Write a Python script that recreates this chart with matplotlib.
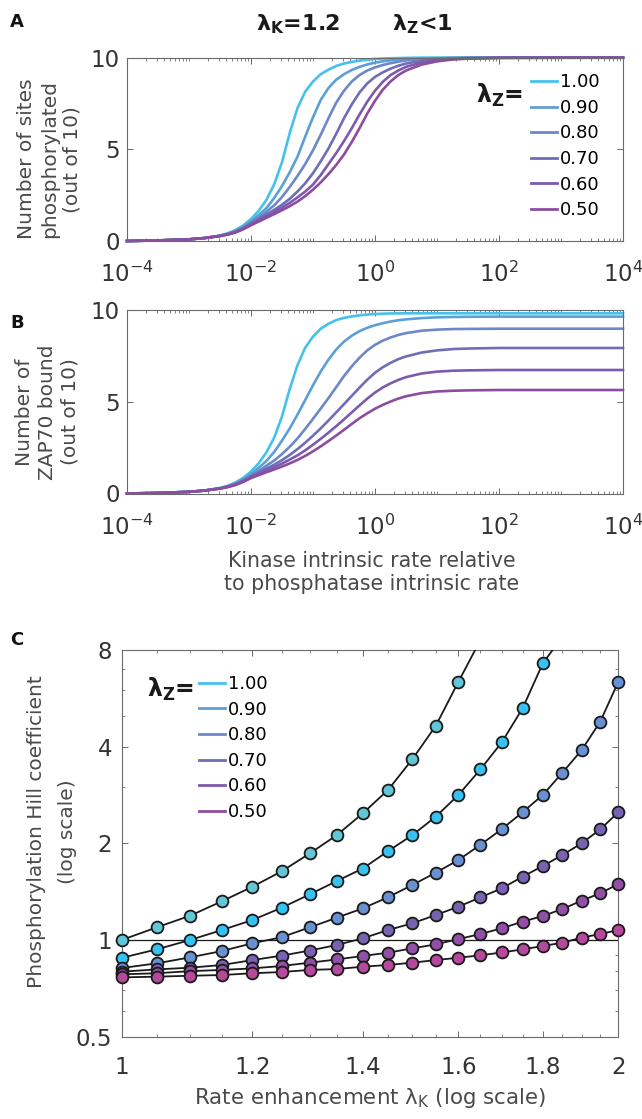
import numpy as np
import matplotlib.pyplot as plt
from matplotlib.ticker import FixedLocator, LogLocator, NullFormatter
from matplotlib.lines import Line2D

# -----------------------------
# Data
# -----------------------------
lam_z = ["1.00", "0.90", "0.80", "0.70", "0.60", "0.50"]

# kinase / phosphatase intrinsic rate, as powers of ten
rate_exp = [-4, -3.5, -3, -2.75,
            -2.5, -2.375, -2.25, -2.125, -2, -1.875, -1.75, -1.625,
            -1.5, -1.375, -1.25, -1.125, -1, -0.875, -0.75, -0.625,
            -0.5, -0.375, -0.25, -0.125, 0, 0.125, 0.25, 0.375,
            0.5, 0.75, 1, 1.25, 1.5, 2, 3, 4]

# panel A: number of sites phosphorylated
phos_100 = [0.0, 0.03, 0.09, 0.16,
            0.30, 0.42, 0.60, 0.85, 1.2, 1.65, 2.25, 3.1,
            4.3, 5.9, 7.25, 8.15, 8.7, 9.1, 9.35, 9.55,
            9.68, 9.77, 9.84, 9.89, 9.93, 9.95, 9.97, 9.98,
            9.99, 10, 10, 10, 10, 10, 10, 10]
phos_090 = [0.0, 0.03, 0.09, 0.16,
            0.29, 0.40, 0.55, 0.78, 1.08, 1.42, 1.8, 2.35,
            3.0, 3.75, 4.6, 5.7, 6.75, 7.7, 8.35, 8.8,
            9.1, 9.33, 9.5, 9.63, 9.73, 9.8, 9.86, 9.9,
            9.93, 9.97, 9.98, 9.99, 10, 10, 10, 10]
phos_080 = [0.0, 0.03, 0.09, 0.16,
            0.28, 0.38, 0.52, 0.73, 1.0, 1.28, 1.6, 1.95,
            2.4, 2.95, 3.55, 4.2, 4.95, 5.8, 6.7, 7.55,
            8.2, 8.7, 9.05, 9.3, 9.47, 9.6, 9.7, 9.78,
            9.85, 9.92, 9.96, 9.98, 9.99, 10, 10, 10]
phos_070 = [0.0, 0.03, 0.09, 0.16,
            0.28, 0.37, 0.50, 0.70, 0.95, 1.2, 1.45, 1.7,
            1.98, 2.3, 2.7, 3.15, 3.7, 4.35, 5.05, 5.85,
            6.7, 7.45, 8.1, 8.6, 8.95, 9.2, 9.4, 9.56,
            9.68, 9.83, 9.91, 9.95, 9.98, 10, 10, 10]
phos_060 = [0.0, 0.03, 0.09, 0.16,
            0.27, 0.36, 0.48, 0.67, 0.9, 1.12, 1.35, 1.57,
            1.82, 2.08, 2.38, 2.7, 3.08, 3.6, 4.2, 4.8,
            5.45, 6.15, 6.9, 7.6, 8.2, 8.68, 9.05, 9.3,
            9.5, 9.74, 9.87, 9.93, 9.96, 9.99, 10, 10]
phos_050 = [0.0, 0.03, 0.09, 0.16,
            0.27, 0.35, 0.46, 0.64, 0.86, 1.06, 1.27, 1.47,
            1.68, 1.9, 2.15, 2.45, 2.8, 3.2, 3.65, 4.15,
            4.72, 5.4, 6.15, 6.95, 7.65, 8.25, 8.7, 9.05,
            9.3, 9.62, 9.8, 9.9, 9.95, 9.99, 10, 10]

# panel B: number of ZAP70 bound
zap_100 = [0.0, 0.03, 0.09, 0.16,
           0.30, 0.42, 0.60, 0.85, 1.2, 1.65, 2.25, 3.05,
           4.2, 5.7, 7.0, 7.95, 8.55, 8.98, 9.25, 9.45,
           9.57, 9.65, 9.71, 9.75, 9.78, 9.8, 9.81, 9.815,
           9.82, 9.82, 9.82, 9.82, 9.82, 9.82, 9.82, 9.82]
zap_090 = [0.0, 0.03, 0.09, 0.16,
           0.29, 0.40, 0.55, 0.78, 1.07, 1.4, 1.78, 2.27,
           2.88, 3.55, 4.3, 5.1, 5.9, 6.65, 7.3, 7.85,
           8.28, 8.6, 8.85, 9.03, 9.17, 9.28, 9.37, 9.44,
           9.49, 9.56, 9.6, 9.62, 9.63, 9.64, 9.64, 9.64]
zap_080 = [0.0, 0.03, 0.09, 0.16,
           0.28, 0.38, 0.52, 0.72, 0.98, 1.23, 1.52, 1.8,
           2.15, 2.55, 3.0, 3.52, 4.07, 4.63, 5.2, 5.8,
           6.4, 6.93, 7.4, 7.8, 8.1, 8.33, 8.5, 8.64,
           8.74, 8.87, 8.93, 8.96, 8.97, 8.98, 8.98, 8.98]
zap_070 = [0.0, 0.03, 0.09, 0.16,
           0.28, 0.37, 0.50, 0.69, 0.93, 1.14, 1.36, 1.57,
           1.82, 2.1, 2.42, 2.77, 3.15, 3.55, 3.98, 4.42,
           4.87, 5.32, 5.77, 6.2, 6.58, 6.88, 7.12, 7.32,
           7.47, 7.68, 7.8, 7.87, 7.9, 7.93, 7.93, 7.93]
zap_060 = [0.0, 0.03, 0.09, 0.16,
           0.27, 0.36, 0.48, 0.66, 0.88, 1.07, 1.26, 1.44,
           1.63, 1.85, 2.08, 2.35, 2.66, 2.98, 3.32, 3.67,
           4.04, 4.42, 4.8, 5.17, 5.5, 5.78, 6.0, 6.19,
           6.34, 6.54, 6.64, 6.69, 6.71, 6.73, 6.73, 6.73]
zap_050 = [0.0, 0.03, 0.09, 0.16,
           0.27, 0.35, 0.46, 0.63, 0.84, 1.0, 1.16, 1.31,
           1.47, 1.64, 1.83, 2.05, 2.3, 2.57, 2.86, 3.16,
           3.47, 3.79, 4.1, 4.37, 4.62, 4.83, 5.01, 5.17,
           5.3, 5.47, 5.56, 5.6, 5.62, 5.64, 5.64, 5.64]

# panel C: phosphorylation Hill coefficient vs rate enhancement lambda_K
lam_k = [1.0, 1.05, 1.1, 1.15, 1.2, 1.25, 1.3, 1.35, 1.4, 1.45, 1.5,
         1.55, 1.6, 1.65, 1.7, 1.75, 1.8, 1.85, 1.9, 1.95, 2.0]
hill_100 = [1.0, 1.095, 1.19, 1.32, 1.465, 1.636, 1.86, 2.12, 2.48, 2.93, 3.65,
            4.64, 6.37, 8.6]
hill_090 = [0.88, 0.935, 1.0, 1.074, 1.154, 1.26, 1.387, 1.526, 1.67, 1.89, 2.12,
            2.42, 2.83, 3.40, 4.13, 5.27, 7.27, 8.8]
hill_080 = [0.818, 0.846, 0.883, 0.924, 0.977, 1.02, 1.095, 1.173, 1.255, 1.358, 1.483,
            1.62, 1.775, 1.98, 2.216, 2.50, 2.83, 3.32, 3.90, 4.78, 6.37]
hill_070 = [0.797, 0.81, 0.82, 0.836, 0.866, 0.894, 0.927, 0.965, 1.012, 1.074, 1.127,
            1.196, 1.27, 1.358, 1.449, 1.575, 1.70, 1.84, 2.0, 2.21, 2.50]
hill_060 = [0.782, 0.788, 0.80, 0.807, 0.816, 0.83, 0.85, 0.87, 0.892, 0.913, 0.942,
            0.969, 1.007, 1.044, 1.088, 1.141, 1.188, 1.249, 1.326, 1.398, 1.494]
hill_050 = [0.765, 0.769, 0.774, 0.778, 0.788, 0.795, 0.807, 0.812, 0.826, 0.836, 0.85,
            0.866, 0.881, 0.896, 0.915, 0.935, 0.958, 0.981, 1.017, 1.044, 1.074]

phos = [phos_100, phos_090, phos_080, phos_070, phos_060, phos_050]
zap = [zap_100, zap_090, zap_080, zap_070, zap_060, zap_050]
hill = [hill_100, hill_090, hill_080, hill_070, hill_060, hill_050]

line_colors = ["#45c1ec", "#5c9fd6", "#6b89c9", "#6f6db6", "#7d5aae", "#8c4d9f"]
marker_colors = ["#63c6d6", "#36c2f1", "#6990d0", "#7862b1", "#924fa6", "#b54a9c"]

rate = 10.0 ** np.array(rate_exp)

# -----------------------------
# Figure
# -----------------------------
W, H = 642, 1119
fig = plt.figure(figsize=(W / 100, H / 100), dpi=100)


def px_axes(l, t, r, b):
    return fig.add_axes([l / W, 1 - b / H, (r - l) / W, (b - t) / H])


def style(ax):
    for s in ax.spines.values():
        s.set_color("#6a6a6a")
        s.set_linewidth(0.8)
    ax.tick_params(which="both", direction="in", top=True, right=True,
                   color="#6a6a6a", labelcolor="#333333", labelsize=16.5)
    ax.tick_params(which="major", length=4.5, width=0.7)
    ax.tick_params(which="minor", length=2.5, width=0.6)


axA = px_axes(127, 57.7, 623, 241)
axB = px_axes(127, 310, 623, 493.5)
axC = px_axes(121.7, 650, 618.3, 1036.7)

legend_handles = [Line2D([], [], color=c, lw=2.0) for c in line_colors]

# Panels A and B
for ax, data in ((axA, phos), (axB, zap)):
    for vals, c in zip(data, line_colors):
        ax.plot(rate, vals, color=c, lw=1.9, clip_on=False, solid_joinstyle="round")
    style(ax)
    ax.set_xscale("log")
    ax.set_xlim(1e-4, 1e4)
    ax.set_ylim(0, 10)
    ax.set_xticks([1e-4, 1e-2, 1, 1e2, 1e4])
    ax.set_xticklabels([r"$\mathregular{10^{-4}}$", r"$\mathregular{10^{-2}}$",
                        r"$\mathregular{10^{0}}$", r"$\mathregular{10^{2}}$",
                        r"$\mathregular{10^{4}}$"])
    ax.xaxis.set_minor_locator(LogLocator(base=10, subs=np.arange(1, 10), numticks=100))
    ax.xaxis.set_minor_formatter(NullFormatter())
    ax.set_yticks([0, 5, 10])
    ax.tick_params(axis="x", which="major", pad=15)
    ax.tick_params(axis="y", which="major", pad=5)

axA.set_ylabel("Number of sites\nphosphorylated\n(out of 10)", fontsize=14.5,
               color="#4a4a4a", va="center", linespacing=1.25)
axA.yaxis.set_label_coords(-0.157, 0.447)
axB.set_ylabel("Number of\nZAP70 bound\n(out of 10)", fontsize=14.5,
               color="#4a4a4a", va="center", linespacing=1.25)
axB.yaxis.set_label_coords(-0.161, 0.444)
axB.set_xlabel("Kinase intrinsic rate relative\nto phosphatase intrinsic rate",
               fontsize=14.8, color="#4a4a4a", va="center", linespacing=1.15)
axB.xaxis.set_label_coords(0.494, -0.43)

axA.legend(legend_handles, lam_z, loc="upper left", bbox_to_anchor=(0.815, 0.915),
           frameon=False, fontsize=13, handlelength=1.45, handletextpad=0.15,
           labelspacing=0.42, borderpad=0, borderaxespad=0)
axA.text(0.703, 0.87, r"$\mathregular{λ_Z}$=", transform=axA.transAxes,
         fontsize=17, fontweight="bold", va="top", ha="left", color="#1a1a1a")

# Panel C
for vals, mc in zip(hill, marker_colors):
    x = np.array(lam_k[:len(vals)])
    y = np.array(vals)
    ax = axC
    ax.plot(x, y, color="#1a1a1a", lw=1.3, zorder=3)
    shown = y <= 8
    ax.plot(x[shown], y[shown], "o", ms=8.5, mfc=mc, mec="#1a1a1a", mew=1.3,
            clip_on=False, zorder=4)
axC.axhline(1, color="#1a1a1a", lw=0.9, zorder=2)
style(axC)
axC.set_xscale("log")
axC.set_yscale("log")
axC.set_xlim(1, 2)
axC.set_ylim(0.5, 8)
axC.set_xticks([1, 1.2, 1.4, 1.6, 1.8, 2])
axC.set_xticklabels(["1", "1.2", "1.4", "1.6", "1.8", "2"])
axC.xaxis.set_minor_locator(FixedLocator(lam_k))
axC.xaxis.set_minor_formatter(NullFormatter())
axC.set_yticks([0.5, 1, 2, 4, 8])
axC.set_yticklabels(["0.5", "1", "2", "4", "8"])
axC.yaxis.set_minor_locator(LogLocator(base=10, subs=np.arange(2, 10), numticks=100))
axC.yaxis.set_minor_formatter(NullFormatter())
axC.tick_params(axis="x", which="major", pad=14)
axC.tick_params(axis="y", which="major", pad=7)
axC.set_ylabel("Phosphorylation Hill coefficient\n(log scale)", fontsize=14.5,
               color="#4a4a4a", va="center", linespacing=1.8)
axC.yaxis.set_label_coords(-0.14, 0.53)
axC.set_xlabel(r"Rate enhancement $\mathregular{λ_K}$ (log scale)", fontsize=15.4,
               color="#4a4a4a", va="center")
axC.xaxis.set_label_coords(0.5, -0.159)

axC.legend(legend_handles, lam_z, loc="upper left", bbox_to_anchor=(0.156, 0.935),
           frameon=False, fontsize=13, handlelength=1.45, handletextpad=0.15,
           labelspacing=0.42, borderpad=0, borderaxespad=0)
axC.text(0.05, 0.932, r"$\mathregular{λ_Z}$=", transform=axC.transAxes,
         fontsize=17, fontweight="bold", va="top", ha="left", color="#1a1a1a")

# Title and panel letters
fig.text(256 / W, 1 - 30 / H, r"$\mathregular{λ_K}$=1.2", fontsize=16,
         fontweight="bold", va="baseline", ha="left", color="#1a1a1a")
fig.text(392 / W, 1 - 30 / H, r"$\mathregular{λ_Z}$<1", fontsize=16,
         fontweight="bold", va="baseline", ha="left", color="#1a1a1a")
for letter, yb in (("A", 27), ("B", 328), ("C", 645)):
    fig.text(10 / W, 1 - yb / H, letter, fontsize=13, fontweight="bold",
             va="baseline", ha="left", color="#111111")

fig.savefig("out.png", dpi=100)
